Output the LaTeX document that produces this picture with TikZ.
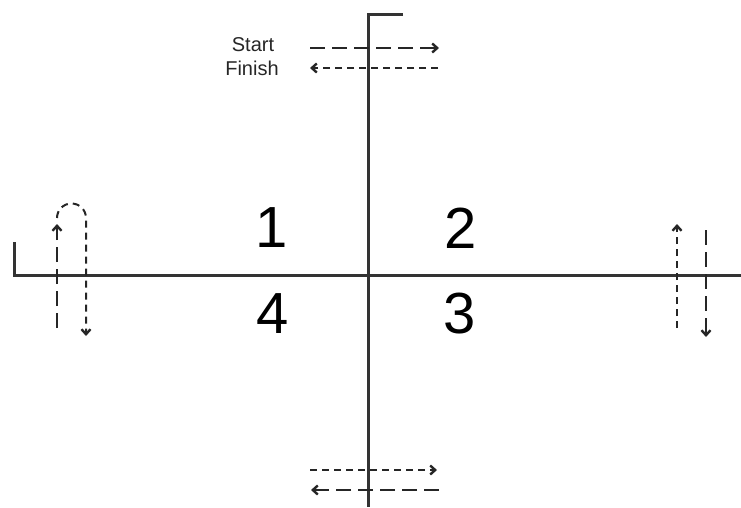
\documentclass[tikz,border=0pt]{standalone}
\usepackage{fontspec}
\setmainfont{Liberation Sans}
\usetikzlibrary{arrows.meta}
\begin{document}
\begin{tikzpicture}[x=1pt,y=-1pt,
  axis/.style={draw=black!80, line width=3pt},
  longdash/.style={draw=black!85, line width=2.5pt, dash pattern=on 15pt off 7pt},
  shortdash/.style={draw=black!85, line width=2pt, dash pattern=on 7pt off 5pt},
  tip/.style={-{Straight Barb[length=5pt,width=9pt,line width=2.4pt]}},
  quad/.style={font=\fontsize{58}{60}\selectfont, inner sep=0pt},
  lbl/.style={font=\fontsize{20}{21}\selectfont, text=black!85, inner sep=0pt}]
\useasboundingbox (0,0) rectangle (741,507);
% axes
\coordinate (vtop) at (368,14);
\coordinate (vflag) at (403,14);
\coordinate (vbot) at (368,507);
\coordinate (hleft) at (14,275);
\coordinate (htick) at (14,242);
\coordinate (hright) at (741,275);
\draw[axis] (vflag) -- (vtop) -- (vbot);
\draw[axis] (htick) -- (hleft) -- (hright);
% quadrant numbers
\node[quad] (q1) at (272,228) {1};
\node[quad] (q2) at (461,228) {2};
\node[quad] (q3) at (460,314) {3};
\node[quad] (q4) at (273,314) {4};
% labels
\node[lbl] (start) at (253,45) {Start};
\node[lbl] (finish) at (252,68) {Finish};
% top arrows
\coordinate (ts1) at (310,48);
\coordinate (ts2) at (439,48);
\coordinate (tf1) at (438,68);
\coordinate (tf2) at (310,68);
\draw[longdash, tip] (ts1) -- (ts2);
\draw[shortdash, tip] (tf1) -- (tf2);
% bottom arrows
\coordinate (bs1) at (310,470);
\coordinate (bs2) at (437,470);
\coordinate (bf1) at (439,490);
\coordinate (bf2) at (311,490);
\draw[shortdash, tip] (bs1) -- (bs2);
\draw[longdash, tip] (bf1) -- (bf2);
% left loop
\coordinate (lu1) at (57,328);
\coordinate (lu2) at (57,224);
\coordinate (la1) at (57,218);
\coordinate (ld2) at (86,336);
\draw[longdash, tip] (lu1) -- (lu2);
\draw[shortdash, tip] (la1) arc[start angle=180, end angle=360, radius=14.5] -- (ld2);
% right pair
\coordinate (ru1) at (677,328);
\coordinate (ru2) at (677,224);
\coordinate (rd1) at (706,230);
\coordinate (rd2) at (706,337);
\draw[shortdash, tip] (ru1) -- (ru2);
\draw[longdash, tip] (rd1) -- (rd2);
\end{tikzpicture}
\end{document}
